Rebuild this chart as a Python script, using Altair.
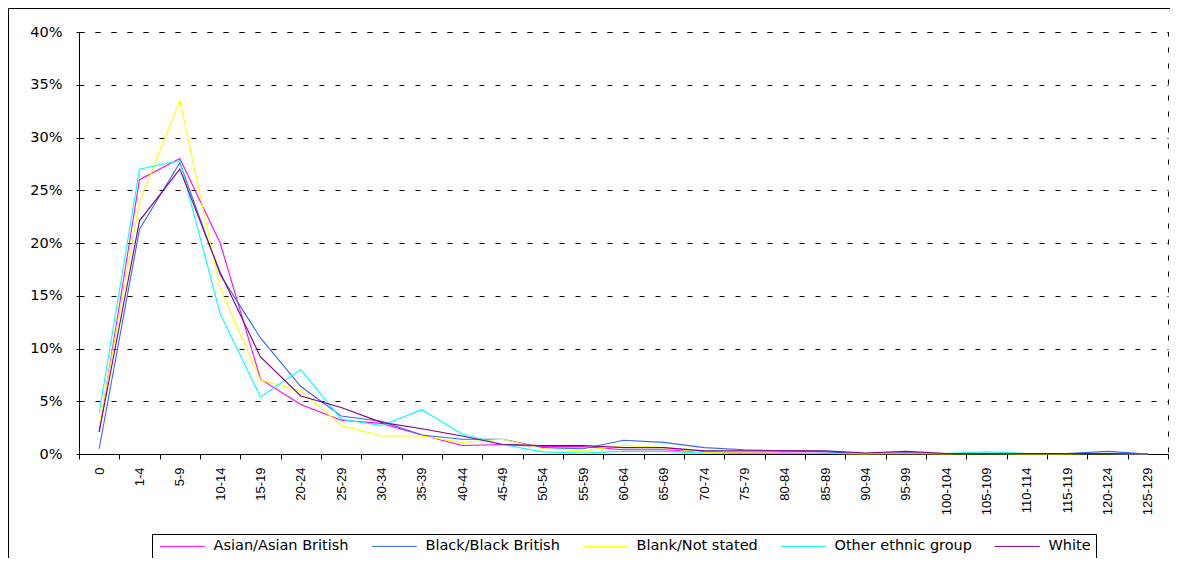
import altair as alt
import pandas as pd

age_bands = ["0", "1-4", "5-9", "10-14", "15-19", "20-24", "25-29", "30-34", "35-39",
             "40-44", "45-49", "50-54", "55-59", "60-64", "65-69", "70-74", "75-79",
             "80-84", "85-89", "90-94", "95-99", "100-104", "105-109", "110-114",
             "115-119", "120-124", "125-129"]

series_names = ["Asian/Asian British", "Black/Black British", "Blank/Not stated",
                "Other ethnic group", "White"]
series_colors = ["#FF00FF", "#3366FF", "#FFFF00", "#00FFFF", "#800080"]

# percentages
asian = [2.1, 26.0, 28.0, 20.0, 7.1, 4.7, 3.2, 2.9, 1.8, 0.8, 0.9, 0.7, 0.7, 0.4,
         0.4, 0.2, 0.1, 0.1, 0.05, 0.05, 0.1, 0.05, 0.05, 0.05, 0.05, 0.05, 0.0]
black = [0.5, 21.3, 27.6, 17.0, 11.0, 6.4, 3.6, 3.1, 1.8, 1.4, 1.4, 0.6, 0.5, 1.3,
         1.1, 0.6, 0.4, 0.3, 0.2, 0.05, 0.1, 0.05, 0.05, 0.05, 0.05, 0.25, 0.0]
blank = [2.6, 23.9, 33.5, 15.7, 7.0, 6.0, 2.7, 1.7, 1.7, 1.1, 1.4, 0.5, 0.3, 0.8,
         0.6, 0.15, 0.1, 0.05, 0.05, 0.0, 0.05, 0.0, 0.05, 0.0, 0.0, 0.05, 0.0]
other = [3.9, 27.0, 27.8, 13.3, 5.4, 8.0, 3.3, 2.7, 4.2, 1.9, 0.9, 0.2, 0.1, 0.25,
         0.25, 0.1, 0.05, 0.05, 0.05, 0.05, 0.05, 0.05, 0.2, 0.05, 0.05, 0.05, 0.0]
white = [2.1, 22.1, 27.0, 17.2, 9.2, 5.5, 4.4, 3.0, 2.4, 1.7, 0.9, 0.8, 0.8, 0.6,
         0.6, 0.3, 0.3, 0.3, 0.3, 0.1, 0.25, 0.05, 0.05, 0.05, 0.05, 0.05, 0.0]

y_ticks = [0.0, 0.05, 0.1, 0.15, 0.2, 0.25, 0.3, 0.35, 0.4]

rows = []
for name, vals in zip(series_names, [asian, black, blank, other, white]):
    for i, (band, v) in enumerate(zip(age_bands, vals)):
        rows.append({"group": name, "band": band, "idx": i, "share": v / 100.0})
df = pd.DataFrame(rows)

lines = alt.Chart(df).mark_line(strokeWidth=1.1).encode(
    x=alt.X("band:N", sort=age_bands, bandPosition=0.5,
            scale=alt.Scale(type="band", paddingInner=0, paddingOuter=0),
            axis=alt.Axis(title=None, labelAngle=270, tickBand="extent", tickSize=5,
                          tickColor="black", domainColor="black", labelColor="black",
                          labelFont="Liberation Sans", labelFontSize=13,
                          labelPadding=8, labelOverlap=False, grid=False)),
    y=alt.Y("share:Q", scale=alt.Scale(domain=[0, 0.4], nice=False),
            axis=alt.Axis(title=None, format=".0%", values=y_ticks, tickSize=3,
                          tickColor="black", domainColor="black", labelColor="black",
                          labelFont="DejaVu Sans", labelFontSize=14.5, labelPadding=14,
                          grid=True, gridColor="black", gridDash=[5, 11], gridWidth=1)),
    color=alt.Color("group:N", sort=series_names,
                    scale=alt.Scale(domain=series_names, range=series_colors),
                    legend=alt.Legend(title=None, orient="none", legendX=73, legendY=502,
                                      direction="horizontal", columns=5,
                                      symbolType="M-1,0H9", symbolSize=81,
                                      symbolStrokeWidth=1, labelOffset=42,
                                      columnPadding=20, padding=5,
                                      labelFont="DejaVu Sans", labelFontSize=14.5,
                                      labelColor="black", labelLimit=400,
                                      strokeColor="black", fillColor="white")),
    order=alt.Order("idx:Q"),
)

frame = alt.Chart(pd.DataFrame({"k": [0]})).mark_rect(
    fill="transparent", stroke="black", strokeWidth=1
).encode(
    x=alt.value(-70.5), x2=alt.value(1200), y=alt.value(-23.5), y2=alt.value(600)
)

chart = alt.layer(frame, lines).properties(
    width=1089, height=422,
    padding={"left": 71, "top": 24, "right": 2, "bottom": 104},
    autosize=alt.AutoSizeParams(type="none"),
).configure_view(stroke="black", strokeDash=[5, 11], strokeWidth=1)

chart.save("out.html", embed_options={"renderer": "svg", "actions": False})
